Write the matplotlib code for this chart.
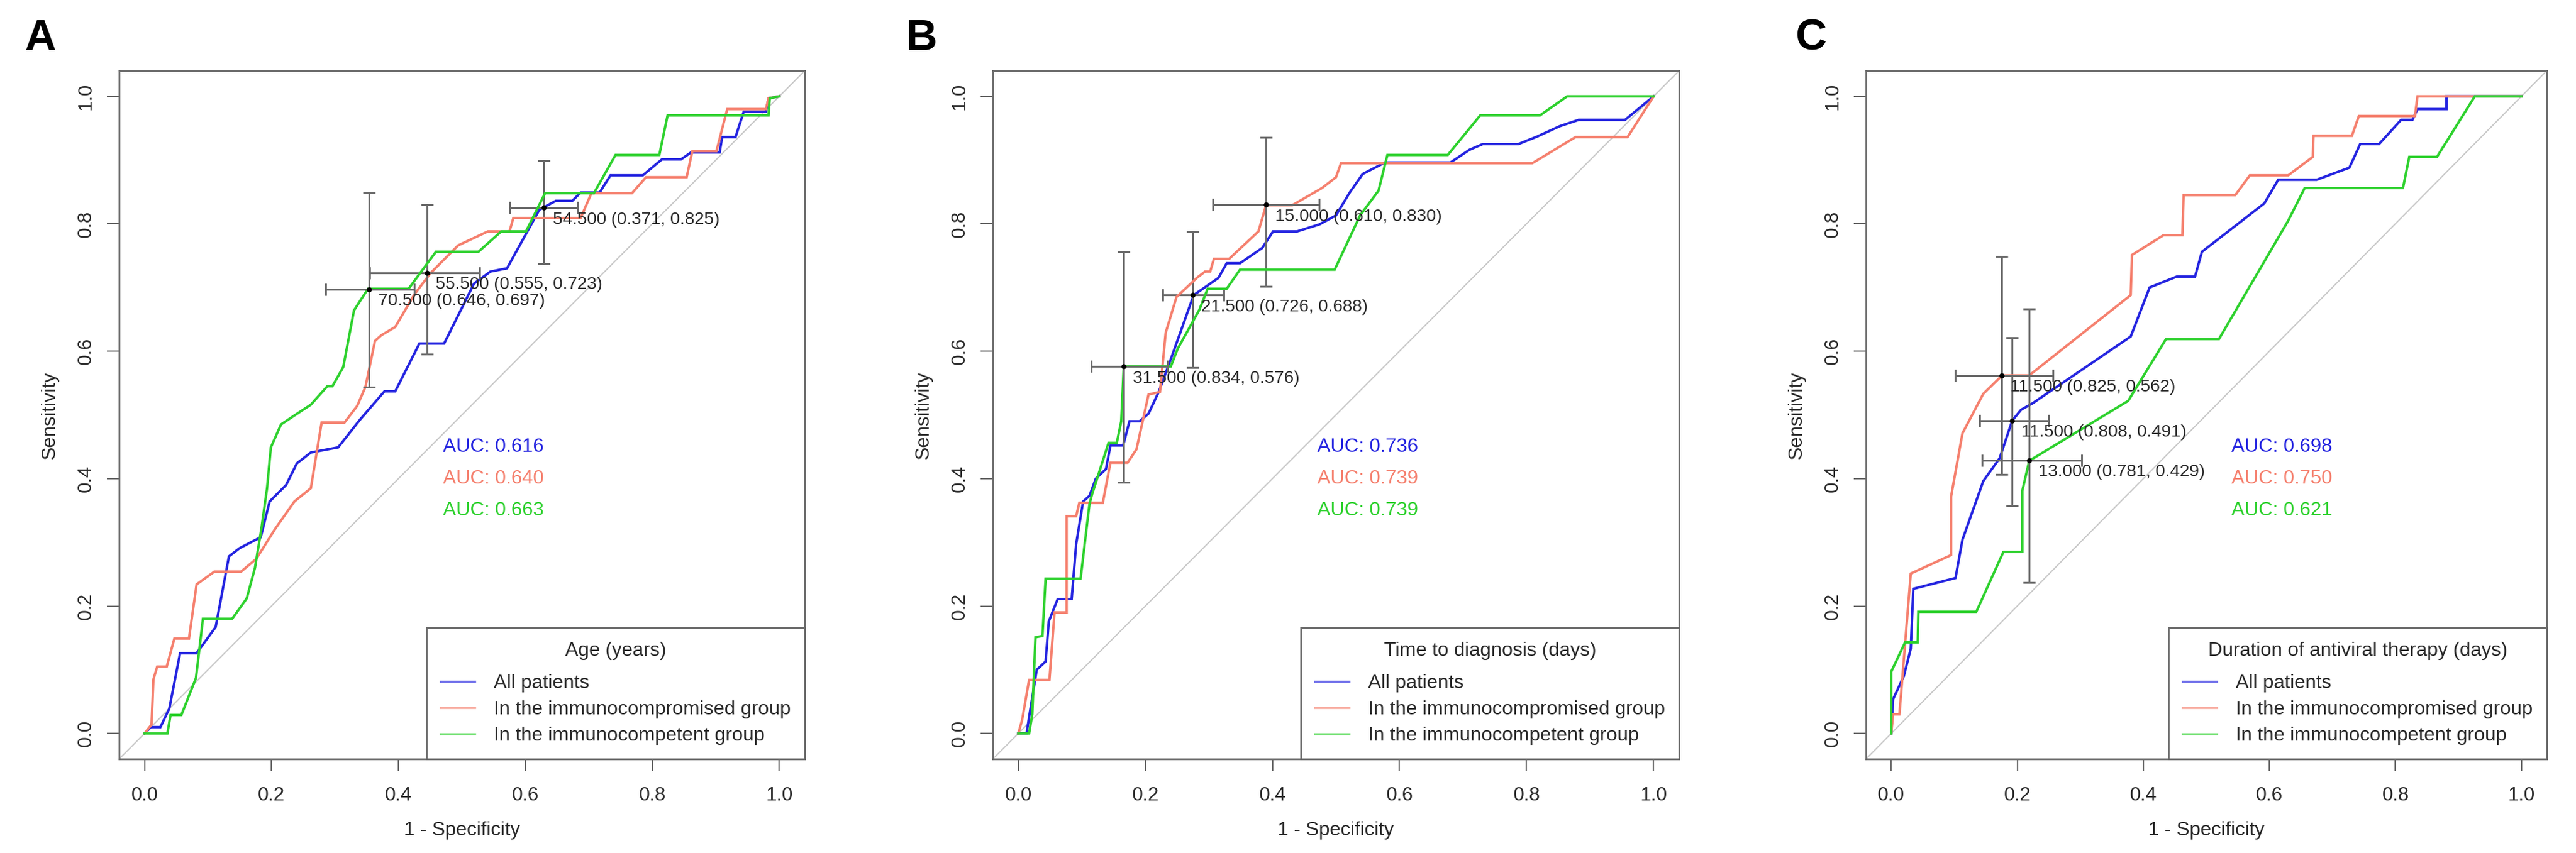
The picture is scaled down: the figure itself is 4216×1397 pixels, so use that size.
import matplotlib
matplotlib.use("Agg")
import matplotlib.pyplot as plt
from matplotlib.lines import Line2D

plt.rcParams['font.family'] = ['Liberation Sans', 'DejaVu Sans']

# ---------------- data ----------------
groups = ["All patients", "In the immunocompromised group", "In the immunocompetent group"]
panel_letters = ["A", "B", "C"]
legend_titles = ["Age (years)", "Time to diagnosis (days)", "Duration of antiviral therapy (days)"]
auc_values = [[0.616, 0.640, 0.663], [0.736, 0.739, 0.739], [0.698, 0.750, 0.621]]
ticks = [0.0, 0.2, 0.4, 0.6, 0.8, 1.0]

# Panel A (Age) ROC curves: x = 1 - specificity, y = sensitivity
A_all_x = [0, 0.010, 0.025, 0.039, 0.056, 0.082, 0.112, 0.133, 0.150, 0.183, 0.197, 0.223, 0.240, 0.262, 0.305, 0.339, 0.378, 0.395, 0.433, 0.472, 0.519, 0.545, 0.571, 0.622, 0.648, 0.674, 0.687, 0.717, 0.734, 0.785, 0.815, 0.845, 0.861, 0.906, 0.910, 0.931, 0.944, 0.979, 0.983, 1.0]
A_all_y = [0, 0.010, 0.010, 0.039, 0.126, 0.126, 0.167, 0.278, 0.291, 0.308, 0.364, 0.390, 0.424, 0.441, 0.449, 0.492, 0.537, 0.537, 0.612, 0.612, 0.706, 0.725, 0.730, 0.822, 0.836, 0.836, 0.849, 0.849, 0.876, 0.876, 0.901, 0.901, 0.912, 0.912, 0.936, 0.936, 0.976, 0.976, 0.997, 1.0]
A_ic_x = [0, 0.011, 0.014, 0.020, 0.035, 0.047, 0.070, 0.082, 0.110, 0.152, 0.176, 0.205, 0.236, 0.262, 0.279, 0.315, 0.335, 0.348, 0.363, 0.373, 0.395, 0.425, 0.451, 0.494, 0.541, 0.575, 0.581, 0.687, 0.704, 0.768, 0.790, 0.854, 0.863, 0.901, 0.918, 0.979, 0.983, 1.0]
A_ic_y = [0, 0.014, 0.085, 0.105, 0.105, 0.149, 0.149, 0.234, 0.254, 0.254, 0.274, 0.320, 0.364, 0.385, 0.488, 0.488, 0.514, 0.544, 0.616, 0.625, 0.638, 0.689, 0.723, 0.766, 0.788, 0.788, 0.809, 0.809, 0.848, 0.848, 0.873, 0.873, 0.914, 0.914, 0.980, 0.980, 0.997, 1.0]
A_comp_x = [0, 0.036, 0.041, 0.058, 0.081, 0.092, 0.138, 0.161, 0.174, 0.184, 0.193, 0.199, 0.215, 0.236, 0.262, 0.288, 0.296, 0.313, 0.330, 0.352, 0.416, 0.459, 0.526, 0.562, 0.601, 0.631, 0.708, 0.742, 0.811, 0.824, 0.983, 0.985, 1.0]
A_comp_y = [0, 0, 0.029, 0.029, 0.087, 0.180, 0.180, 0.212, 0.260, 0.321, 0.385, 0.449, 0.485, 0.499, 0.516, 0.545, 0.545, 0.575, 0.664, 0.698, 0.698, 0.756, 0.756, 0.788, 0.788, 0.848, 0.848, 0.908, 0.908, 0.970, 0.970, 0.997, 1.0]

# Panel B (Time to diagnosis)
B_all_x = [0, 0.013, 0.018, 0.029, 0.043, 0.048, 0.062, 0.084, 0.091, 0.102, 0.112, 0.122, 0.138, 0.145, 0.165, 0.175, 0.191, 0.205, 0.221, 0.241, 0.276, 0.302, 0.315, 0.328, 0.349, 0.384, 0.401, 0.439, 0.474, 0.500, 0.521, 0.542, 0.577, 0.680, 0.710, 0.731, 0.787, 0.817, 0.852, 0.882, 0.955, 1.0]
B_all_y = [0, 0, 0.032, 0.100, 0.113, 0.176, 0.211, 0.211, 0.297, 0.364, 0.373, 0.400, 0.415, 0.452, 0.452, 0.490, 0.490, 0.502, 0.536, 0.590, 0.688, 0.706, 0.715, 0.738, 0.738, 0.762, 0.788, 0.788, 0.799, 0.813, 0.848, 0.878, 0.896, 0.896, 0.916, 0.925, 0.925, 0.937, 0.953, 0.963, 0.963, 1.0]
B_ic_x = [0, 0.006, 0.017, 0.049, 0.057, 0.076, 0.076, 0.091, 0.096, 0.133, 0.145, 0.172, 0.186, 0.205, 0.223, 0.232, 0.249, 0.281, 0.294, 0.302, 0.308, 0.332, 0.378, 0.390, 0.431, 0.478, 0.500, 0.508, 0.809, 0.877, 0.959, 1.0]
B_ic_y = [0, 0.021, 0.084, 0.084, 0.190, 0.190, 0.341, 0.341, 0.362, 0.362, 0.425, 0.425, 0.446, 0.532, 0.536, 0.629, 0.685, 0.715, 0.725, 0.725, 0.745, 0.745, 0.788, 0.829, 0.829, 0.856, 0.873, 0.895, 0.895, 0.936, 0.936, 1.0]
B_comp_x = [0, 0.017, 0.022, 0.027, 0.038, 0.043, 0.098, 0.112, 0.116, 0.142, 0.155, 0.162, 0.166, 0.240, 0.251, 0.285, 0.298, 0.328, 0.349, 0.498, 0.538, 0.567, 0.581, 0.676, 0.727, 0.821, 0.864, 1.0]
B_comp_y = [0, 0, 0.030, 0.151, 0.153, 0.243, 0.243, 0.360, 0.375, 0.456, 0.456, 0.490, 0.576, 0.576, 0.604, 0.665, 0.698, 0.698, 0.728, 0.728, 0.813, 0.852, 0.908, 0.908, 0.970, 0.970, 1.0, 1.0]

# Panel C (Duration of antiviral therapy)
C_all_x = [0, 0.003, 0.020, 0.031, 0.035, 0.102, 0.113, 0.146, 0.172, 0.192, 0.206, 0.224, 0.380, 0.410, 0.453, 0.482, 0.493, 0.592, 0.614, 0.675, 0.727, 0.744, 0.774, 0.809, 0.827, 0.835, 0.881, 0.881, 1.0]
C_all_y = [0, 0.054, 0.090, 0.133, 0.227, 0.244, 0.304, 0.396, 0.432, 0.491, 0.508, 0.518, 0.623, 0.700, 0.717, 0.717, 0.756, 0.832, 0.869, 0.869, 0.888, 0.925, 0.925, 0.963, 0.963, 0.980, 0.980, 1.0, 1.0]
C_ic_x = [0, 0.003, 0.013, 0.031, 0.095, 0.095, 0.113, 0.146, 0.176, 0.219, 0.380, 0.382, 0.432, 0.462, 0.464, 0.546, 0.569, 0.630, 0.669, 0.670, 0.731, 0.742, 0.831, 0.835, 1.0]
C_ic_y = [0, 0.030, 0.030, 0.251, 0.280, 0.372, 0.471, 0.533, 0.562, 0.562, 0.688, 0.751, 0.782, 0.782, 0.845, 0.845, 0.876, 0.876, 0.905, 0.938, 0.938, 0.969, 0.969, 1.0, 1.0]
C_comp_x = [0, 0, 0.022, 0.042, 0.043, 0.135, 0.178, 0.208, 0.208, 0.219, 0.376, 0.436, 0.520, 0.630, 0.656, 0.812, 0.822, 0.866, 0.926, 1.0]
C_comp_y = [0, 0.097, 0.143, 0.143, 0.191, 0.191, 0.285, 0.285, 0.381, 0.428, 0.522, 0.619, 0.619, 0.805, 0.856, 0.856, 0.905, 0.905, 1.0, 1.0]

# Best thresholds per group (all, immunocompromised, immunocompetent)
A_thr = [54.5, 55.5, 70.5]
A_spec = [0.371, 0.555, 0.646]
A_sens = [0.825, 0.723, 0.697]
A_fpr_lo = [0.575, 0.355, 0.285]
A_fpr_hi = [0.682, 0.528, 0.425]
A_sens_lo = [0.737, 0.595, 0.544]
A_sens_hi = [0.899, 0.830, 0.848]

B_thr = [21.5, 15.0, 31.5]
B_spec = [0.726, 0.610, 0.834]
B_sens = [0.688, 0.830, 0.576]
B_fpr_lo = [0.227, 0.306, 0.115]
B_fpr_hi = [0.324, 0.474, 0.235]
B_sens_lo = [0.574, 0.702, 0.394]
B_sens_hi = [0.788, 0.936, 0.756]

C_thr = [11.5, 11.5, 13.0]
C_spec = [0.808, 0.825, 0.781]
C_sens = [0.491, 0.562, 0.429]
C_fpr_lo = [0.140, 0.102, 0.144]
C_fpr_hi = [0.250, 0.257, 0.302]
C_sens_lo = [0.358, 0.407, 0.237]
C_sens_hi = [0.621, 0.749, 0.666]

# ---------------- style ----------------
colors = ["#2424E0", "#F5806E", "#2ED12E"]
frame_col = "#6b6b6b"
text_col = "#2a2a2a"
ci_col = "#6a6a6a"
FS = 23
W, H = 4216, 1397
ax_px = [(195, 1122), (1625, 1123), (3054, 1114)]
ax_top, ax_bot = 116, 1243
letter_x = [40, 1482, 2938]
auc_x = [0.47, 0.471, 0.54]

panels = [
    dict(curves=[(A_all_x, A_all_y), (A_ic_x, A_ic_y), (A_comp_x, A_comp_y)],
         thr=A_thr, spec=A_spec, sens=A_sens, flo=A_fpr_lo, fhi=A_fpr_hi, slo=A_sens_lo, shi=A_sens_hi),
    dict(curves=[(B_all_x, B_all_y), (B_ic_x, B_ic_y), (B_comp_x, B_comp_y)],
         thr=B_thr, spec=B_spec, sens=B_sens, flo=B_fpr_lo, fhi=B_fpr_hi, slo=B_sens_lo, shi=B_sens_hi),
    dict(curves=[(C_all_x, C_all_y), (C_ic_x, C_ic_y), (C_comp_x, C_comp_y)],
         thr=C_thr, spec=C_spec, sens=C_sens, flo=C_fpr_lo, fhi=C_fpr_hi, slo=C_sens_lo, shi=C_sens_hi),
]

fig = plt.figure(figsize=(W / 100, H / 100), dpi=100)

for p, panel in enumerate(panels):
    left, width = ax_px[p]
    ax = fig.add_axes([left / W, 1 - ax_bot / H, width / W, (ax_bot - ax_top) / H])
    ax.set_xlim(-0.04, 1.04)
    ax.set_ylim(-0.04, 1.04)
    # reference diagonal
    ax.plot([-0.04, 1.04], [-0.04, 1.04], color="#c8c8c8", lw=1.5, zorder=1)

    for g in range(3):
        xs, ys = panel["curves"][g]
        ax.plot(xs, ys, color=colors[g], lw=2.9, zorder=2 + g * 2, solid_joinstyle="miter")
        fx = 1 - panel["spec"][g]
        sy = panel["sens"][g]
        ax.errorbar([fx], [sy],
                    xerr=[[fx - panel["flo"][g]], [panel["fhi"][g] - fx]],
                    yerr=[[sy - panel["slo"][g]], [panel["shi"][g] - sy]],
                    fmt="o", ms=5, mfc="black", mec="black", ecolor=ci_col,
                    elinewidth=2.2, capsize=7.5, capthick=2.2, zorder=3 + g * 2)
        ax.annotate(f"{panel['thr'][g]:.3f} ({panel['spec'][g]:.3f}, {sy:.3f})",
                    xy=(fx, sy), xytext=(10.5, -14), textcoords="offset points",
                    ha="left", va="center", fontsize=20.5, color=text_col, zorder=10)

    for g in range(3):
        ax.text(auc_x[p], 0.45 - 0.05 * g, f"AUC: {auc_values[p][g]:.3f}",
                color=colors[g], fontsize=FS, ha="left", va="center", zorder=10)

    for s in ax.spines.values():
        s.set_color(frame_col)
        s.set_linewidth(2)
    ax.set_xticks(ticks)
    ax.set_yticks(ticks)
    ax.set_xticklabels([f"{t:.1f}" for t in ticks])
    ax.set_yticklabels([f"{t:.1f}" for t in ticks], rotation=90, va="center")
    ax.tick_params(direction="out", length=14.5, width=1.6, color=frame_col,
                   labelsize=FS, labelcolor=text_col)
    ax.tick_params(axis="x", pad=18)
    ax.tick_params(axis="y", pad=13.7)
    ax.set_xlabel("1 - Specificity", fontsize=FS, color=text_col, labelpad=19.5)
    ax.set_ylabel("Sensitivity", fontsize=FS, color=text_col, labelpad=21)

    handles = [Line2D([], [], color=colors[g], lw=2.5, alpha=0.65) for g in range(3)]
    leg = ax.legend(handles, groups, title=legend_titles[p], loc="lower right",
                    bbox_to_anchor=(1, 0), borderaxespad=0, fancybox=False,
                    framealpha=1, edgecolor=frame_col, fontsize=FS, title_fontsize=FS,
                    handlelength=1.75, handletextpad=0.97, labelspacing=0.41,
                    borderpad=0.72)
    leg._legend_box.sep = 16.6
    leg.get_frame().set_linewidth(2)
    leg.get_title().set_color(text_col)
    for t in leg.get_texts():
        t.set_color(text_col)
    leg.set_zorder(20)

    fig.text(letter_x[p] / W, 1 - 82 / H, panel_letters[p], fontsize=51,
             fontweight="bold", ha="left", va="baseline", color="black")

fig.savefig("out.png", dpi=100)
